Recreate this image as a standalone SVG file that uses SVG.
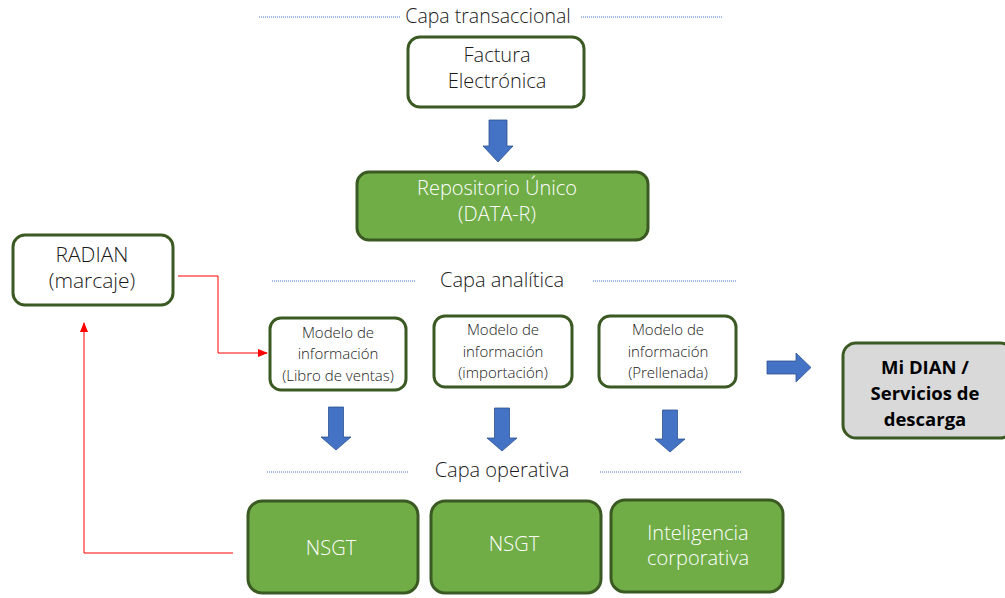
<svg xmlns="http://www.w3.org/2000/svg" width="1005" height="598" viewBox="0 0 1005 598">
<defs>
<style>
text{font-family:"Open Sans","Liberation Sans",sans-serif;font-weight:300;fill:#1a1a1a;text-anchor:middle}
.w{fill:#ffffff}
.b{font-weight:700;fill:#000}
.box{fill:#ffffff;stroke:#3b5a23;stroke-width:3}
.g{fill:#70ad47;stroke:#3b5a23;stroke-width:3}
.gr{fill:#d9d9d9;stroke:#3b5a23;stroke-width:3}
.dot{stroke:#4472c4;stroke-width:1;stroke-dasharray:1 1;fill:none}
.arr{fill:#4472c4;stroke:#2f528f;stroke-width:0.8}
.red{stroke:#ff0000;stroke-width:1;fill:none}
</style>
<marker id="ra" markerWidth="10" markerHeight="8" refX="9" refY="4" orient="auto" markerUnits="userSpaceOnUse">
<path d="M0,0 L10,4 L0,8 Z" fill="#ff0000"/>
</marker>
</defs>
<rect width="1005" height="598" fill="#ffffff"/>

<g id="layers">
<line class="dot" x1="259" y1="17" x2="400" y2="17"/>
<line class="dot" x1="581" y1="17" x2="722" y2="17"/>
<text x="488" y="23" font-size="19.5">Capa transaccional</text>
<line class="dot" x1="272" y1="281" x2="415" y2="281"/>
<line class="dot" x1="593" y1="281" x2="737" y2="281"/>
<text x="502" y="287" font-size="20">Capa analítica</text>
<line class="dot" x1="267" y1="472" x2="408" y2="472"/>
<line class="dot" x1="600" y1="472" x2="742" y2="472"/>
<text x="502" y="477" font-size="20">Capa operativa</text>
</g>

<g id="factura">
<rect class="box" x="408" y="37" width="176" height="70" rx="12"/>
<text x="497" y="62" font-size="20">Factura</text>
<text x="497" y="88" font-size="20">Electrónica</text>
</g>
<g id="repositorio">
<rect class="g" x="357" y="172" width="291" height="68" rx="12"/>
<text class="w" x="497" y="195" font-size="20">Repositorio Único</text>
<text class="w" x="497" y="221" font-size="20">(DATA-R)</text>
</g>
<g id="radian">
<rect class="box" x="13" y="235" width="160" height="70" rx="12"/>
<text x="92" y="262" font-size="21">RADIAN</text>
<text x="92" y="288" font-size="21">(marcaje)</text>
</g>
<g id="modelo1">
<rect class="box" x="270" y="318" width="136" height="72" rx="11"/>
<text x="338" y="338" font-size="15">Modelo de</text>
<text x="338" y="359" font-size="15">información</text>
<text x="338" y="381" font-size="15">(Libro de ventas)</text>
</g>
<g id="modelo2">
<rect class="box" x="434" y="316" width="138" height="71" rx="11"/>
<text x="503" y="335" font-size="15">Modelo de</text>
<text x="503" y="357" font-size="15">información</text>
<text x="503" y="378" font-size="15">(importación)</text>
</g>
<g id="modelo3">
<rect class="box" x="599" y="316" width="137" height="71" rx="11"/>
<text x="668" y="335" font-size="15">Modelo de</text>
<text x="668" y="357" font-size="15">información</text>
<text x="668" y="378" font-size="15">(Prellenada)</text>
</g>
<g id="midian">
<rect class="gr" x="843" y="343" width="170" height="95" rx="13"/>
<text class="b" x="925" y="374" font-size="18.5">Mi DIAN /</text>
<text class="b" x="925" y="400" font-size="18.5">Servicios de</text>
<text class="b" x="925" y="426" font-size="18.5">descarga</text>
</g>
<g id="nsgt1">
<rect class="g" x="248" y="501" width="170" height="92" rx="14"/>
<text class="w" x="331" y="555" font-size="20">NSGT</text>
</g>
<g id="nsgt2">
<rect class="g" x="431" y="501" width="170" height="92" rx="14"/>
<text class="w" x="514" y="551" font-size="20">NSGT</text>
</g>
<g id="inteligencia">
<rect class="g" x="611" y="500" width="172" height="92" rx="14"/>
<text class="w" x="698" y="540" font-size="20">Inteligencia</text>
<text class="w" x="698" y="565" font-size="20">corporativa</text>
</g>

<g id="connectors">
<path class="arr" d="M489,120 H507 V146 H513 L498,162 L483,146 H489 Z"/>
<path class="arr" d="M328.5,407 H343.5 V437 H351 L336,450 L321,437 H328.5 Z"/>
<path class="arr" d="M494.5,408 H509.5 V438 H517 L502,451 L487,438 H494.5 Z"/>
<path class="arr" d="M662.5,410 H677.5 V439 H685 L670,452 L655,439 H662.5 Z"/>
<path class="arr" d="M767,361 H796 V353 L811,367.5 L796,382 V374 H767 Z"/>
<polyline class="red" points="178,276 218,276 218,353 267,353" marker-end="url(#ra)"/>
<polyline class="red" points="233,553 84,553 84,323" marker-end="url(#ra)"/>
</g>
</svg>
